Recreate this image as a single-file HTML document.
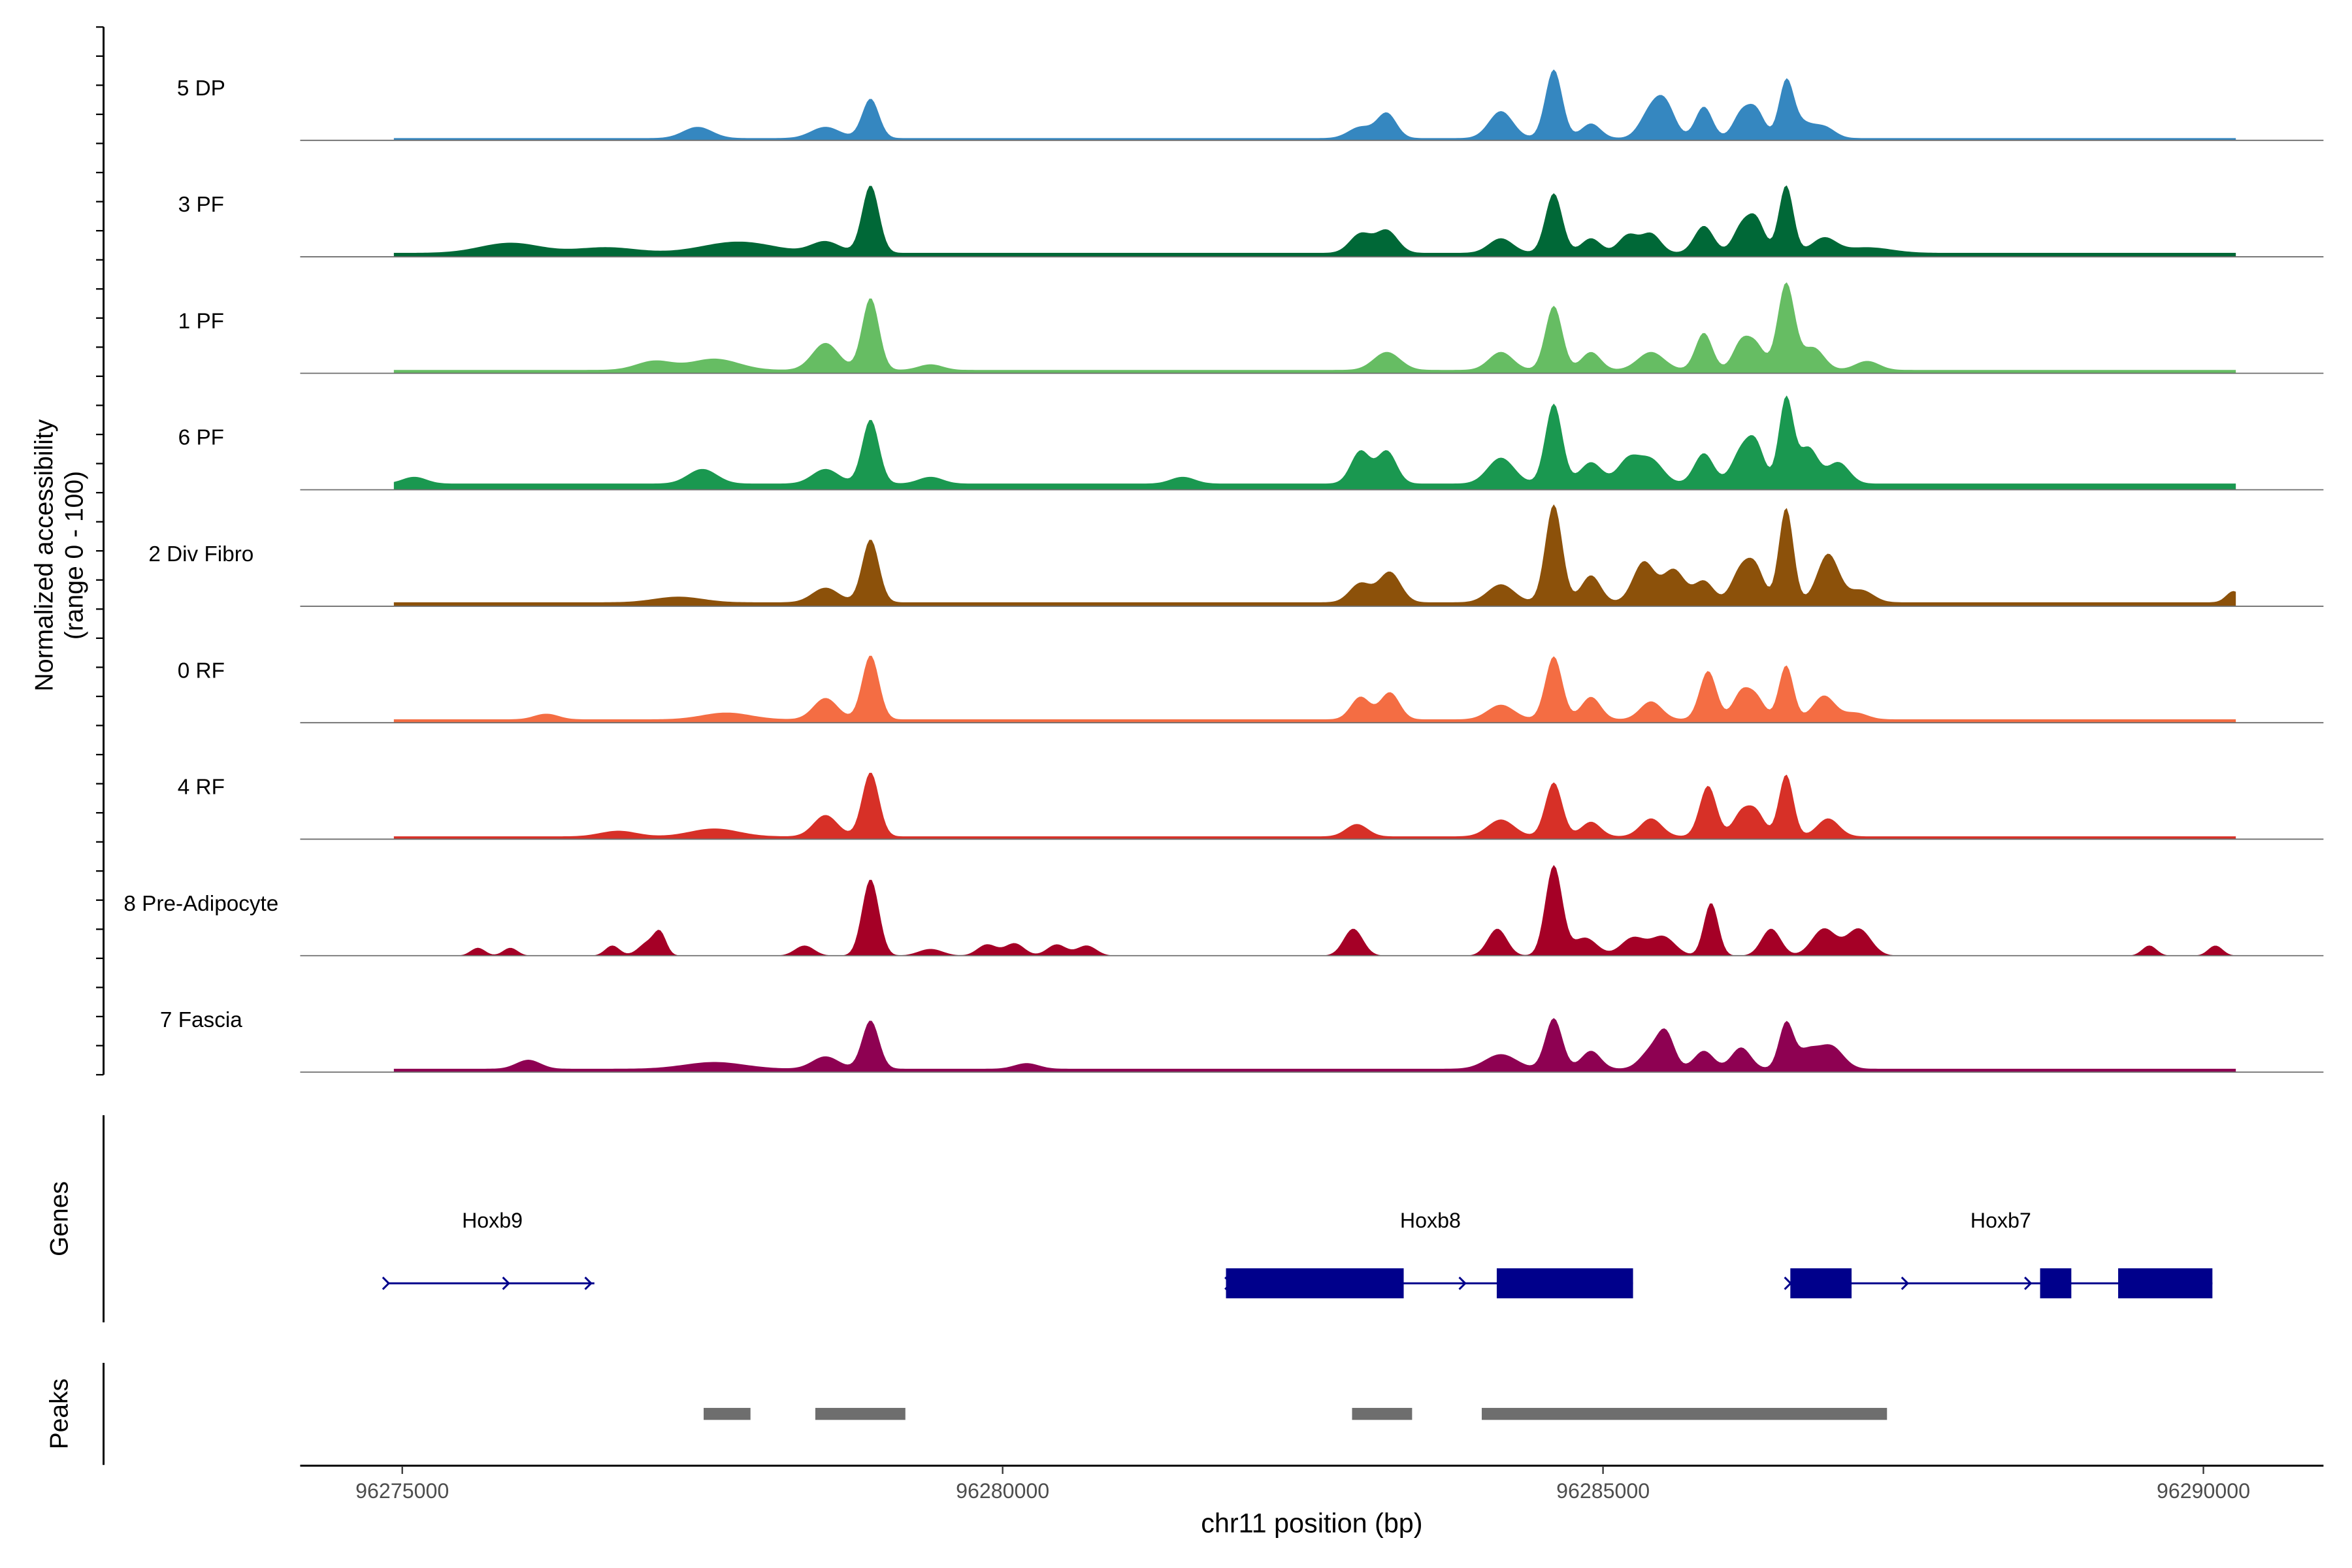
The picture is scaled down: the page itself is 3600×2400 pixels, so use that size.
<!DOCTYPE html>
<html><head><meta charset="utf-8"><style>
html,body{margin:0;padding:0;background:#fff}
svg{display:block;font-family:"Liberation Sans",Arial,sans-serif}
</style></head><body>
<svg id="chart" width="3600" height="2400" viewBox="0 0 1567 1044.67" preserveAspectRatio="none" xmlns="http://www.w3.org/2000/svg">
<g id="tracks"></g>
<g id="axes"></g>
<g id="genes"></g>
<g id="peaks"></g>
</svg>
<script>
const trackNames = ["5 DP","3 PF","1 PF","6 PF","2 Div Fibro","0 RF","4 RF","8 Pre-Adipocyte","7 Fascia"];
const trackColors = ["#3587c0","#006837","#66bd63","#1a9850","#8c510a","#f46d43","#d73027","#a50026","#8e0152"];
const trackBackground = [2,3.5,3,5.5,3.5,3,2.5,0,3];
// peaks: [position bp, height (0-100), width bp]
const peaks5DP = [[96277460,10,120],[96278525,10,120],[96278900,35,70],[96282980,10,100],[96283200,22,80],[96284150,24,100],[96284590,61,70],[96284900,13,80],[96285400,24,90],[96285525,26,80],[96285840,28,70],[96286150,21,70],[96286275,24,70],[96286525,48,60],[96286650,13,90],[96286840,10,90]];
const peaks3PF = [[96275900,9,250],[96276700,5,250],[96277800,10,300],[96278525,10,120],[96278900,60,70],[96282980,17,90],[96283200,20,90],[96284150,13,100],[96284590,53,70],[96284900,13,80],[96285210,16,80],[96285400,17,80],[96285840,24,80],[96286150,22,70],[96286275,29,70],[96286525,60,60],[96286840,13,100],[96287200,5,200]];
const peaks1PF = [[96277100,8,150],[96277600,10,200],[96278525,24,110],[96278900,64,70],[96279400,5,100],[96283200,16,110],[96284150,16,100],[96284590,57,70],[96284900,16,80],[96285400,16,110],[96285840,33,70],[96286150,24,70],[96286275,21,70],[96286525,77,70],[96286750,20,90],[96287200,8,100]];
const peaks6PF = [[96275100,6,100],[96277500,13,120],[96278525,13,110],[96278900,57,70],[96279400,6,100],[96281500,6,100],[96282980,29,80],[96283200,29,80],[96284150,23,110],[96284590,71,70],[96284900,19,90],[96285210,21,90],[96285400,21,100],[96285840,27,80],[96286150,28,80],[96286275,32,70],[96286525,76,60],[96286710,32,80],[96286960,19,90]];
const peaks2Div = [[96277300,5,200],[96278525,13,110],[96278900,56,70],[96282980,17,90],[96283225,27,90],[96284150,16,110],[96284590,87,70],[96284900,24,80],[96285340,36,90],[96285590,29,90],[96285840,19,80],[96286150,29,80],[96286275,27,70],[96286525,84,60],[96286875,43,90],[96287150,11,100],[96290250,10,60]];
const peaks0RF = [[96276200,5,100],[96277700,6,200],[96278525,19,100],[96278900,57,70],[96282980,20,80],[96283225,24,80],[96284150,13,110],[96284590,56,70],[96284900,20,80],[96285400,16,90],[96285875,43,70],[96286150,23,70],[96286275,19,70],[96286525,48,60],[96286840,21,90],[96287100,6,100]];
const peaks4RF = [[96276800,5,150],[96277600,7,200],[96278525,19,100],[96278900,57,70],[96282950,11,90],[96284150,15,110],[96284590,48,70],[96284900,13,80],[96285400,16,90],[96285875,45,70],[96286150,20,70],[96286275,21,70],[96286525,55,60],[96286875,16,90]];
const peaksPre = [[96275630,7,60],[96275900,7,60],[96276750,9,60],[96277050,12,80],[96277150,17,50],[96278350,9,80],[96278900,68,70],[96279400,6,100],[96279870,10,80],[96280100,11,80],[96280450,10,80],[96280700,9,80],[96282920,24,80],[96284120,24,80],[96284590,80,70],[96284850,16,100],[96285250,16,100],[96285500,17,100],[96285900,47,60],[96286400,24,80],[96286840,24,100],[96287130,24,100],[96289550,9,60],[96290100,9,60]];
const peaksFascia = [[96276050,8,100],[96277600,6,250],[96278525,11,110],[96278900,43,70],[96280200,5,100],[96284150,13,130],[96284590,45,70],[96284900,16,80],[96285400,16,90],[96285525,29,70],[96285840,16,80],[96286150,19,80],[96286525,40,60],[96286700,16,90],[96286900,20,100]];
const trackPeaks = [peaks5DP,peaks3PF,peaks1PF,peaks6PF,peaks2Div,peaks0RF,peaks4RF,peaksPre,peaksFascia];
const xTicks = [96275000,96280000,96285000,96290000];
const geneNames = ["Hoxb9","Hoxb8","Hoxb7"];
const geneSpans = [[96274875,96276600],[96281860,96285250],[96286550,96290075]];
const geneExons = [[],[[96281860,96283340],[96284115,96285250]],[[96286560,96287070],[96288640,96288900],[96289290,96290075]]];
const geneArrows = [[96274875,96275875,96276560],[96281890,96283840],[96286550,96287525,96288550]];
const peakRegions = [[96277510,96277900],[96278440,96279190],[96282910,96283410],[96283990,96287365]];

const NS="http://www.w3.org/2000/svg";
function mk(tag, attrs, parent){const e=document.createElementNS(NS,tag);for(const k in attrs)e.setAttribute(k,attrs[k]);parent.appendChild(e);return e;}
const xScale = bp => 268 + (bp-96275000)/12.5;
const baseY = i => 93.5 + i*77.6;
const yScale = (i,v) => baseY(i) - v*0.75;
const regionStart = 96274930, regionEnd = 96290270;

const tracksG=document.getElementById('tracks');
trackNames.forEach((name,i)=>{
  const g=mk('g',{},tracksG);
  
  
  let d='M'+xScale(regionStart)+','+baseY(i);
  for(let bp=regionStart;bp<=regionEnd;bp+=20){
    let v = (trackBackground[i]>0)?trackBackground[i]:0;
    trackPeaks[i].forEach(p=>{const z=(bp-p[0])/p[2];v+=p[1]*Math.exp(-0.5*z*z);});
    if(v>100)v=100;
    d+='L'+xScale(bp).toFixed(2)+','+yScale(i,v).toFixed(2);
  }
  d+='L'+xScale(regionEnd)+','+baseY(i)+'Z';
  const a=mk('path',{d:d,fill:trackColors[i]},g);
  
  
  const bl=mk('line',{x1:200,x2:1548,y1:baseY(i),y2:baseY(i),stroke:'#6e6e6e','stroke-width':0.8},g);
  
  
  const t=mk('text',{x:134,y:baseY(i)-30,'text-anchor':'middle','font-size':14.5,fill:'#000'},g);
  t.textContent=name;
  
  
});

const axesG=document.getElementById('axes');
mk('line',{x1:69,x2:69,y1:18,y2:716,stroke:'#000','stroke-width':1.3},axesG);
for(let k=0;k<=36;k++){const y=18+k*19.39;mk('line',{x1:64,x2:69,y1:y,y2:y,stroke:'#000','stroke-width':1},axesG);}
const yt=mk('text',{transform:'translate(35,370) rotate(-90)','text-anchor':'middle','font-size':17},axesG);
yt.textContent='Normalized accessibility';


const yt2=mk('text',{transform:'translate(55,370) rotate(-90)','text-anchor':'middle','font-size':17},axesG);
yt2.textContent='(range 0 - 100)';


mk('line',{x1:200,x2:1548,y1:976.5,y2:976.5,stroke:'#000','stroke-width':1.3},axesG);
xTicks.forEach(t=>{
  mk('line',{x1:xScale(t),x2:xScale(t),y1:976.5,y2:982,stroke:'#333','stroke-width':1},axesG);
  const tl=mk('text',{x:xScale(t),y:998,'text-anchor':'middle','font-size':14,fill:'#4d4d4d'},axesG);
  tl.textContent=t;
  
  
});
const xt=mk('text',{x:874,y:1021,'text-anchor':'middle','font-size':18},axesG);
xt.textContent='chr11 position (bp)';



const genesG=document.getElementById('genes');
mk('line',{x1:69,x2:69,y1:743,y2:881,stroke:'#000','stroke-width':1.3},genesG);
const gt=mk('text',{transform:'translate(45,812) rotate(-90)','text-anchor':'middle','font-size':17},genesG);
gt.textContent='Genes';


const labelX=[328,953,1333];
geneNames.forEach((n,i)=>{
  const g=mk('g',{},genesG);
  
  
  mk('line',{x1:xScale(geneSpans[i][0]),x2:xScale(geneSpans[i][1]),y1:855,y2:855,stroke:'#00008b','stroke-width':1.3},g);
  geneExons[i].forEach(e=>mk('rect',{x:xScale(e[0]),y:845,width:xScale(e[1])-xScale(e[0]),height:20,fill:'#00008b'},g));
  geneArrows[i].forEach(a=>{const x=xScale(a);mk('path',{d:`M${x-3},${851}L${x+1},855L${x-3},859`,fill:'none',stroke:'#00008b','stroke-width':1.3},g);});
  const t=mk('text',{x:labelX[i],y:818,'text-anchor':'middle','font-size':14},g);
  t.textContent=n;
});

const peaksG=document.getElementById('peaks');
mk('line',{x1:69,x2:69,y1:908,y2:976,stroke:'#000','stroke-width':1.3},peaksG);
const pt=mk('text',{transform:'translate(45,942) rotate(-90)','text-anchor':'middle','font-size':17},peaksG);
pt.textContent='Peaks';


peakRegions.forEach(p=>{
  const r=mk('rect',{x:xScale(p[0]),y:938,width:xScale(p[1])-xScale(p[0]),height:8,fill:'#6e6e6e'},peaksG);
  
  
});
</script>
</body></html>
